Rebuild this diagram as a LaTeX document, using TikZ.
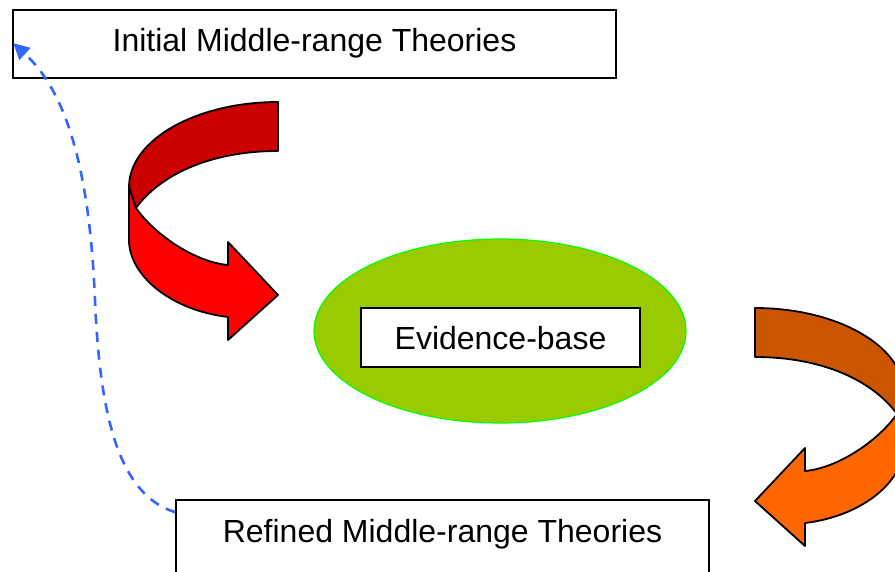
\documentclass[tikz,border=0pt]{standalone}
\usepackage{fontspec}
\setmainfont{Liberation Sans}
\usetikzlibrary{arrows.meta,calc,shapes.geometric}
\definecolor{dred}{RGB}{204,0,0}
\definecolor{lred}{RGB}{255,0,0}
\definecolor{dorange}{RGB}{204,85,0}
\definecolor{lorange}{RGB}{255,102,0}
\definecolor{evgreen}{RGB}{153,204,0}
\definecolor{evborder}{RGB}{0,255,0}
\definecolor{dashblue}{RGB}{51,102,255}
\newcommand\curvarrow[2]{%
  \filldraw[fill=#1,draw=black,line width=1.8pt,line join=round]
    (278,102) .. controls (196,102) and (129,140) .. (129,187)
    -- (136,208) .. controls (160,175) and (210,151) .. (278,151) -- cycle;
  \filldraw[fill=#2,draw=black,line width=1.8pt,line join=round]
    (129,187) -- (129,240) .. controls (129,275) and (170,310) .. (228,317)
    -- (228,340) -- (278,295) -- (228,242) -- (228,265)
    .. controls (195,262) and (155,235) .. (136,208) -- cycle;
}
\tikzset{
  txtbox/.style={draw=black,fill=white,line width=1.6pt,rectangle,inner xsep=0pt,inner ysep=0pt,
    font=\fontsize{32}{38}\selectfont},
  evell/.style={ellipse,draw=evborder,fill=evgreen,line width=1.2pt,inner sep=0pt},
  loopline/.style={draw=dashblue,line width=2.6pt,dash pattern=on 10pt off 8pt,
    -{Triangle[length=16pt,width=16pt]}}
}
\begin{document}
\begin{tikzpicture}[x=1pt,y=-1pt]
\useasboundingbox (0,0) rectangle (895,571);
% curved arrows
\curvarrow{dred}{lred}
\begin{scope}[shift={(1033,206)},xscale=-1]
  \curvarrow{dorange}{lorange}
\end{scope}
% ellipse
\node[evell,minimum width=372pt,minimum height=184pt] (ev) at (500,331) {};
% boxes
\node[txtbox,minimum width=603pt,text height=41pt,text depth=27pt,anchor=base] (init) at (314.5,51) {Initial Middle-range Theories};
\node[txtbox,minimum width=279pt,text height=41pt,text depth=18pt,anchor=base] (evb) at (500.5,349) {Evidence-base};
\node[txtbox,minimum width=533pt,text height=42pt,text depth=38pt,anchor=base] (refined) at (442.5,542) {Refined Middle-range Theories};
% dashed feedback arrow
\draw[loopline] ($(refined.north west)+(0,13)$) .. controls (120,495) and (100,420) .. (95,300)
  .. controls (90,180) and (70,95) .. ($(init.north west)+(1,34)$);
\end{tikzpicture}
\end{document}
